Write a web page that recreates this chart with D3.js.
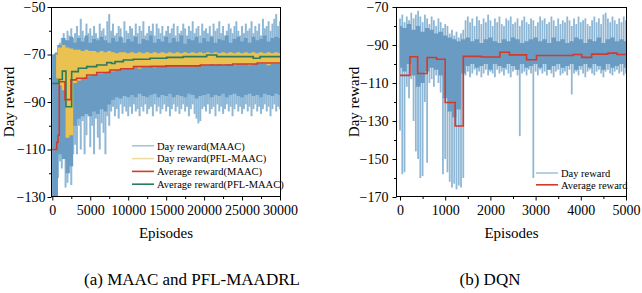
<!DOCTYPE html>
<html><head><meta charset="utf-8">
<script src="https://cdn.jsdelivr.net/npm/d3@7"></script>
<style>body{margin:0;background:#fff} svg{display:block}</style>
</head><body><svg id="c" width="642" height="293" font-family="Liberation Serif"></svg>
<script>
// ---------- DATA: panel (a) ----------
const stepSpikeA = 250;   // episodes between spike samples
const stepCoreA = 500;    // episodes between core band samples
const spikeHiA = [-70,-70,-69,-66,-65,-63,-61,-64,-60,-62,-59,-63,-61,-58,-62,-55,-60,-63,-57,-61,-59,
-62,-58,-61,-63,-57,-60,-59,-62,-56,-53,-60,-57,-62,-61,-58,-59,-63,-56,-60,-61,
-58,-59,-62,-57,-61,-58,-60,-56,-62,-61,-58,-60,-57,-62,-57,-59,-61,-58,-62,-60,
-58,-61,-59,-57,-62,-58,-61,-60,-57,-59,-62,-58,-60,-56,-61,-59,-58,-62,-57,-60,
-59,-61,-58,-62,-57,-60,-59,-56,-61,-58,-62,-60,-57,-59,-61,-58,-56,-60,-62,-58,
-61,-57,-60,-59,-56,-61,-58,-60,-57,-62,-55,-59,-58,-56,-60,-57,-55,-53,-58,-56];
const spikeLoA = [-131,-131,-131,-122,-115,-118,-113,-126,-124,-120,-125,-112,-108,-112,-100,-110,-98,-112,-104,-96,-109,
-100,-112,-97,-105,-110,-99,-103,-112,-96,-100,-94,-92,-96,-93,-97,-91,-95,-92,-94,-96,
-92,-95,-91,-94,-93,-96,-92,-94,-91,-95,-93,-92,-96,-91,-94,-92,-95,-93,-91,-94,
-92,-96,-93,-91,-94,-92,-95,-93,-91,-94,-92,-96,-93,-91,-95,-97,-99,-98,-93,-92,
-94,-91,-95,-93,-92,-96,-91,-94,-92,-95,-93,-91,-94,-92,-96,-93,-91,-94,-92,-95,
-93,-91,-94,-92,-96,-93,-91,-94,-92,-95,-93,-91,-94,-92,-96,-93,-91,-94,-92,-93];
const coreHiA = [-70,-69.5,-66,-63,-64,-62.5,-65,-63,-64.5,-62,-65,-63.5,-64,-62.5,-64,-65,-63,-64.5,-62.5,-65,-63.5,
-64.5,-62.5,-65.5,-63.5,-64,-62,-65,-63.5,-64.5,-62.5,-65,-63,-64.5,-62,-65.5,-63.5,-64,-62.5,-65,-63,
-64.5,-62.5,-65,-63.5,-64,-62,-65,-63.5,-62.5,-64.5,-63,-65,-62.5,-64,-63.5,-62,-64.5,-63,-62.5,-63];
const coreLoA = [-130,-130,-112,-114,-120,-117,-100,-97,-96,-95,-96,-94,-95,-93,-94,-91,-89,-88,-88.5,-87.5,-88,
-87,-88,-86.5,-87.5,-88,-87,-86.5,-88,-87,-87.5,-86.5,-88,-87,-87.5,-88,-86.5,-87,-88.5,-87.5,-87,
-86.5,-88,-87,-87.5,-86.5,-88,-87,-86.5,-87.5,-88,-87,-86.5,-87.5,-87,-88,-86.5,-87,-87.5,-86.5,-87];
const pflHiA = [null,-70,-67,-66,-67,-67.5,-68,-68,-68.5,-68,-68.5,-68.5,-69,-68.5,-69,-68.5,-69,-69.5,-69,-69,-69.5,
-69,-69.5,-69,-69.5,-69,-69.5,-69,-69.5,-69,-69.5,-69,-69.5,-69,-69.5,-69,-69.5,-69,-69.5,-69,-69.5,
-69,-69.5,-69,-69.5,-69,-69.5,-69,-69.5,-69,-69.5,-69,-69.5,-69,-69.5,-69,-69.5,-69,-69.5,-69,-69.5];
const pflLoA = [null,-80,-83,-85,-105,-104,-82,-81,-80,-79.5,-79,-78.5,-78,-78,-77.5,-77,-77,-76.5,-76.5,-76,-76,
-76,-75.5,-76,-75.5,-75.5,-75,-75.5,-75,-75,-75,-74.5,-75,-74.5,-75,-74.5,-74.5,-75,-74.5,-74.5,-74.5,
-74.5,-74,-74.5,-74,-74.5,-74,-74,-74.5,-74,-74,-74,-74.5,-74,-74,-74,-74,-74.5,-74,-74,-74];
const avgMaacEp  = [0,580,750,920,1670,2460,3200,4530,5850,7600,9000,10700,13000,15000,19500,23800,27000,30000];
const avgMaacVal = [-110,-107,-104,-81.5,-89,-80.7,-80,-78.6,-77.6,-76.5,-76,-75.1,-75,-74.8,-74.4,-74,-73.6,-73.3];
const avgPflEp  = [0,880,1320,1800,2550,3430,4530,5850,7170,7830,8260,9360,10670,12870,15070,17260,20340,21660,26480,27370,30000];
const avgPflVal = [-82.2,-80.5,-77,-92,-77.2,-75.8,-75.1,-74.4,-73.4,-73.8,-73,-72.3,-72,-71.6,-71.2,-70.9,-70.2,-70.9,-71.6,-70.9,-70.9];
const xTicksA = [0,5000,10000,15000,20000,25000,30000];
const xMinorA = [2500,7500,12500,17500,22500,27500];
const yTicksA = [-50,-70,-90,-110,-130];
const yMinorA = [-60,-80,-100,-120];
const legendA = ["Day reward(MAAC)","Day reward(PFL-MAAC)","Average reward(MAAC)","Average reward(PFL-MAAC)"];

// ---------- DATA: panel (b) ----------
const stepSpikeB = 50;
const stepCoreB = 100;
const spikeHiB = [-76,-74,-78,-75,-77,-73,-76,-74,-72,-75,-78,-74,-76,-79,-75,-77,-80,-76,-78,-81,-79,-80,-84,-82,-85,-83,-86,-84,
-82,-77,-75,-78,-76,-80,-75,-77,-79,-76,-78,-74,-77,-80,-76,-78,-75,-79,-80,-76,-77,-75,-79,-78,-76,-80,-77,-75,-78,-79,-76,-77,-80,-78,-75,-77,-76,-79,-78,-75,-77,-80,-76,-79,-77,-78,-75,-77,-80,-76,-79,-75,-78,-77,-76,-79,-80,-77,-75,-78,-76,-79,-74,-73,-76,-78,-75,-77,-79,-76,-78,-75,-77];
const spikeLoB = [-135,-158,-157,-112,-118,-108,-130,-146,-150,-160,-159,-120,-152,-110,-108,-112,-106,-110,-115,-158,-150,-157,-162,-165,-163,-166,-164,-165,
-160,-106,-104,-107,-105,-103,-106,-104,-107,-105,-103,-106,-104,-105,-107,-103,-105,-104,-106,-103,-105,-107,-104,-103,-106,-138,-105,-104,-106,-103,-105,-160,-104,-106,-103,-105,-104,-106,-103,-105,-107,-104,-103,-106,-105,-104,-106,-103,-116,-105,-104,-106,-103,-105,-107,-104,-103,-105,-106,-104,-103,-105,-107,-104,-103,-105,-106,-104,-103,-105,-104,-106,-105];
const coreHiB = [-80,-81,-79,-82,-80,-83,-81,-82,-84,-83,-85,-86,-87,-88,-87,-86,-88,-87,-89,-87,-86,-88,-89,-87,-88,-86,-87,-89,-88,-87,-86,-88,-87,-89,-86,-88,-87,-89,-88,-86,-87,-89,-87,-88,-86,-89,-87,-86,-88,-87,-88];
const coreLoB = [-102,-104,-100,-106,-112,-110,-104,-102,-103,-106,-118,-125,-128,-124,-105,-101,-100,-102,-101,-100,-103,-100,-101,-102,-100,-101,-103,-100,-102,-101,-100,-102,-100,-103,-101,-100,-102,-101,-100,-103,-101,-100,-102,-100,-101,-103,-100,-102,-101,-100,-102];
const avgDqnEp  = [0,220,390,600,810,1000,1220,1400,1800,2210,2420,2800,3020,3830,4020,4240,4600,4800,5000];
const avgDqnVal = [-106,-96.2,-105,-96.6,-97.5,-120.3,-132.6,-96,-96.3,-93.8,-95.2,-97.8,-95.5,-95,-96.5,-94.8,-94.3,-95,-95];
const xTicksB = [0,1000,2000,3000,4000,5000];
const xMinorB = [500,1500,2500,3500,4500];
const yTicksB = [-70,-90,-110,-130,-150,-170];
const yMinorB = [-80,-100,-120,-140,-160];
const legendB = ["Day reward","Average reward"];

// ---------- STYLE ----------
const C = {blue:"#6a9cc3", blueSpike:"#8fb8d6", blueLight:"#a6c6de", yellow:"#e9c252", yellowLight:"#f0dc9e", red:"#d23a2a", green:"#2e7a5c"};
const FONT = "Liberation Serif";
const svg = d3.select("#c");

function drawPanel(o){
  const g = svg.append("g");
  const x = d3.scaleLinear().domain(o.xDomain).range(o.xRange);
  const y = d3.scaleLinear().domain(o.yDomain).range([o.f.y1, o.f.y0]);
  const clipId = "clip"+o.id;
  svg.append("clipPath").attr("id",clipId).append("rect")
    .attr("x",o.f.x0).attr("y",o.f.y0).attr("width",o.f.x1-o.f.x0).attr("height",o.f.y1-o.f.y0);
  const p = g.append("g").attr("clip-path",`url(#${clipId})`);
  // spikes
  p.selectAll("line.sp").data(o.spikeHi).join("line")
    .attr("x1",(d,i)=>x(i*o.stepSpike)).attr("x2",(d,i)=>x(i*o.stepSpike))
    .attr("y1",d=>y(d)).attr("y2",(d,i)=>y(o.spikeLo[i]))
    .attr("stroke",C.blueSpike).attr("stroke-width",o.spikeW);
  // core
  const area = d3.area().curve(d3.curveStep).x((d,i)=>x(i*o.stepCore)).y1(d=>y(d)).y0((d,i)=>y(o.coreLo[i]));
  p.append("path").attr("d",area(o.coreHi)).attr("fill",C.blue);
  if(o.pflHi){
    const a2 = d3.area().curve(d3.curveStep).defined(d=>d!=null).x((d,i)=>x(i*o.stepCore)).y1(d=>y(d)).y0((d,i)=>y(o.pflLo[i]));
    p.append("path").attr("d",a2(o.pflHi)).attr("fill",C.yellow);
  }
  const line = d3.line().curve(d3.curveStepAfter).x(d=>x(d[0])).y(d=>y(d[1]));
  o.lines.forEach(l=>{
    p.append("path").attr("d",line(l.ep.map((e,i)=>[e,l.val[i]])))
      .attr("fill","none").attr("stroke",l.color).attr("stroke-width",1.6);
  });
  // frame
  g.append("rect").attr("x",o.f.x0+0.5).attr("y",o.f.y0+0.5)
    .attr("width",o.f.x1-o.f.x0-1).attr("height",o.f.y1-o.f.y0-1)
    .attr("fill","none").attr("stroke","#000").attr("stroke-width",1);
  // axes
  g.append("g").attr("transform",`translate(0,${o.f.y1-0.5})`)
    .call(d3.axisBottom(x).tickValues(o.xTicks).tickSize(4).tickSizeOuter(0).tickPadding(5).tickFormat(d3.format("d")));
  g.append("g").attr("transform",`translate(0,${o.f.y1-0.5})`)
    .call(d3.axisBottom(x).tickValues(o.xMinor).tickSize(2.5).tickSizeOuter(0).tickFormat(""));
  g.append("g").attr("transform",`translate(${o.f.x0+0.5},0)`)
    .call(d3.axisLeft(y).tickValues(o.yTicks).tickSize(4).tickSizeOuter(0).tickPadding(o.yPad).tickFormat(d3.format("d")));
  g.append("g").attr("transform",`translate(${o.f.x0+0.5},0)`)
    .call(d3.axisLeft(y).tickValues(o.yMinor).tickSize(2.5).tickSizeOuter(0).tickFormat(""));
  g.selectAll(".domain").remove();
  g.selectAll("g").attr("font-family",FONT);
  g.selectAll(".tick line").attr("stroke","#000");
  g.selectAll(".tick text").attr("font-family",FONT).attr("font-size",14).attr("fill","#000");
  // labels
  g.append("text").attr("transform",`translate(${o.yLabelX},${(o.f.y0+o.f.y1)/2}) rotate(-90)`)
    .attr("text-anchor","middle").attr("font-family",FONT).attr("font-size",15).text("Day reward");
  g.append("text").attr("x",(o.f.x0+o.f.x1)/2).attr("y",238).attr("text-anchor","middle")
    .attr("font-family",FONT).attr("font-size",15).text("Episodes");
  g.append("text").attr("x",o.captionX).attr("y",285).attr("text-anchor","middle")
    .attr("font-family",FONT).attr("font-size",17).text(o.caption);
  // legend
  o.legend.forEach((t,i)=>{
    const ly = o.leg.y + i*o.leg.dy;
    g.append("line").attr("x1",o.leg.x0).attr("x2",o.leg.x1).attr("y1",ly).attr("y2",ly)
      .attr("stroke",o.legColors[i]).attr("stroke-width",1.6);
    g.append("text").attr("x",o.leg.tx).attr("y",ly+3.7).attr("font-family",FONT).attr("font-size",10.5).text(t);
  });
}

drawPanel({id:"a", f:{x0:51,x1:281,y0:7,y1:197}, xDomain:[0,30000], xRange:[52.3,280], yDomain:[-130,-50],
  spikeHi:spikeHiA, spikeLo:spikeLoA, stepSpike:stepSpikeA, spikeW:2,
  coreHi:coreHiA, coreLo:coreLoA, stepCore:stepCoreA, pflHi:pflHiA, pflLo:pflLoA,
  lines:[{ep:avgMaacEp,val:avgMaacVal,color:C.red},{ep:avgPflEp,val:avgPflVal,color:C.green}],
  xTicks:xTicksA, xMinor:xMinorA, yTicks:yTicksA, yMinor:yMinorA, yPad:2, yLabelX:13.5,
  caption:"(a) MAAC and PFL-MAADRL", captionX:192,
  legend:legendA, legColors:[C.blueLight,C.yellowLight,C.red,C.green],
  leg:{x0:132,x1:154,tx:157,y:145.8,dy:12.8}});

drawPanel({id:"b", f:{x0:396,x1:627,y0:7,y1:197}, xDomain:[0,5000], xRange:[400,626], yDomain:[-170,-70],
  spikeHi:spikeHiB, spikeLo:spikeLoB, stepSpike:stepSpikeB, spikeW:1.8,
  coreHi:coreHiB, coreLo:coreLoB, stepCore:stepCoreB, pflHi:null,
  lines:[{ep:avgDqnEp,val:avgDqnVal,color:C.red}],
  xTicks:xTicksB, xMinor:xMinorB, yTicks:yTicksB, yMinor:yMinorB, yPad:4, yLabelX:359,
  caption:"(b) DQN", captionX:490,
  legend:legendB, legColors:[C.blueLight,C.red],
  leg:{x0:536,x1:558,tx:561,y:173,dy:11.8}});
</script></body></html>
